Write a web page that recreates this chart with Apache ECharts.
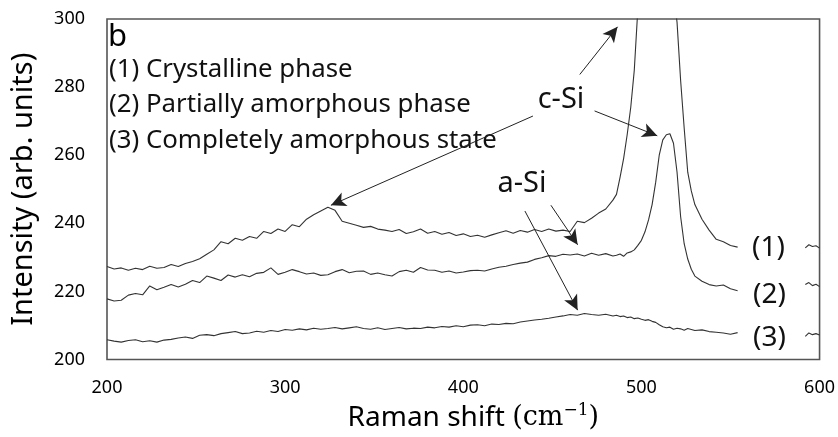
<!DOCTYPE html>
<html>
<head>
<meta charset="utf-8">
<script src="https://cdn.jsdelivr.net/npm/echarts@6/dist/echarts.min.js"></script>
<style>
html,body{margin:0;padding:0;background:#fff;}
#chart{width:838px;height:437px;}
</style>
</head>
<body>
<div id="chart"></div>
<script>
// Raman shift sample positions (cm^-1); 570 marks the gap hidden behind the (1)(2)(3) labels
const ramanShift = [
  200,204,208,212,216,220,224,228,232,236,
  240,244,248,252,256,260,264,268,272,276,
  280,284,288,292,296,300,304,308,312,316,
  320,324,328,332,336,340,344,348,352,356,
  360,364,368,372,376,380,384,388,392,396,
  400,404,408,412,416,420,424,428,432,436,
  440,444,448,452,456,460,464,468,472,476,
  480,484,
  486,488,490,492,494,496,498,500,502,504,506,508,510,512,514,516,518,520,522,524,526,528,530,
  534,538,542,546,550,554,
  570,
  592,594,596,598,600
];

// (1) Crystalline phase
const crystalline = [
  227.3,226.6,226.9,226.2,226.8,226.4,227.4,226.8,227.0,227.9,
  227.3,228.2,228.8,229.6,230.9,232.2,234.6,234.0,235.6,235.0,
  236.1,235.6,237.6,237.0,238.3,237.6,239.6,239.0,241.2,242.5,
  243.6,244.7,243.8,240.6,240.0,239.4,238.8,239.1,238.3,238.0,
  237.6,238.2,237.0,237.5,238.3,237.1,237.6,236.8,237.3,236.4,
  236.9,236.1,236.5,235.9,236.6,237.2,237.8,237.1,237.9,237.4,
  238.2,237.6,238.3,237.7,238.0,237.6,240.6,240.2,241.5,243.0,
  244.2,246.8,
  248.5,253.5,259,266,274,285,303,318,332,342,348,350,348,342,330,316,308,299,282,268,255,249.5,245.5,
  241.2,238.0,235.3,234.6,233.5,233.0,
  null,
  232.8,233.7,233.2,233.4,232.7
];

// (2) Partially amorphous phase
const partial = [
  217.8,217.2,217.4,218.9,219.4,219.0,221.6,220.5,221.2,222.0,
  221.3,222.1,223.2,222.6,224.5,223.9,223.2,224.8,224.2,224.9,
  224.3,225.3,225.6,226.9,225.0,225.6,226.4,225.8,225.1,225.4,
  224.7,224.9,225.8,226.4,225.5,225.9,226.0,225.0,225.4,224.9,
  224.5,225.8,226.2,225.6,227.0,226.3,226.2,225.6,226.0,225.4,
  225.7,226.1,226.2,226.0,226.6,227.1,227.4,227.9,228.3,228.6,
  229.4,229.9,230.5,230.3,230.9,230.7,231.0,230.4,231.2,230.6,
  231.1,230.4,
  230.6,231.0,230.3,231.3,231.6,232.2,233.5,235.0,237.5,241,245.5,252,260,264.5,266.0,266.3,263.5,255,242,234,229.5,226.5,224.5,
  223.0,222.0,221.6,221.9,220.8,220.2,
  null,
  222.0,222.6,221.7,222.1,221.4
];

// (3) Completely amorphous state
const amorphous = [
  205.8,205.4,205.1,205.6,205.8,205.2,205.5,205.1,205.7,205.9,
  206.3,206.6,206.2,207.1,207.3,207.0,207.6,207.9,208.2,207.6,
  207.8,208.3,208.0,208.5,208.2,208.8,208.6,209.0,208.7,209.2,
  208.9,209.1,209.4,209.0,209.3,209.6,209.1,208.9,209.3,208.8,
  209.1,209.4,209.0,209.2,209.1,209.5,209.3,209.7,209.5,209.9,
  209.6,210.1,210.2,209.9,210.4,210.3,210.6,210.5,211.0,211.3,
  211.6,211.8,212.1,212.5,212.8,213.2,213.0,213.5,213.2,213.0,
  213.3,212.8,
  213.0,212.6,212.8,212.3,212.5,212.0,212.2,211.8,211.5,211.7,211.2,210.9,210.2,209.6,209.3,209.5,208.9,209.2,209.0,208.6,209.1,208.8,208.5,
  208.7,208.2,208.0,207.8,207.4,207.9,
  null,
  206.8,207.8,207.3,207.6,207.2
];

// Annotation arrows in data coordinates: [fromX, fromY, toX, toY]
const arrows = [
  [465.4, 283.7, 486.6, 297.7],   // c-Si -> (1) peak
  [439.1, 271.5, 325.7, 245.3],   // c-Si -> 325 feature
  [473.7, 273.0, 508.9, 265.7],   // c-Si -> (2) peak
  [449.2, 245.3, 464.2, 233.7],   // a-Si -> (2)
  [434.6, 243.6, 464.2, 214.5]    // a-Si -> (3)
];

const xTicks = [200, 300, 400, 500, 600];
const yTicks = [200, 220, 240, 260, 280, 300];

const pairs = (ys) => ramanShift.map((x, i) => [x, ys[i]]);
const FONT = '"Noto Sans", sans-serif';
const lineColor = '#333333';

const chart = echarts.init(document.getElementById('chart'), null, {renderer: 'canvas'});

const lineSeries = (name, ys, extra) => Object.assign({
  name: name,
  type: 'line',
  data: pairs(ys),
  showSymbol: false,
  symbol: 'none',
  connectNulls: false,
  clip: true,
  lineStyle: {color: lineColor, width: 1.1},
  animation: false,
  z: 2
}, extra || {});

const option = {
  animation: false,
  backgroundColor: '#ffffff',
  textStyle: {fontFamily: FONT},
  grid: {
    left: 107, top: 19, right: 15, bottom: 74,
    show: true, borderColor: '#555555', borderWidth: 1.6, backgroundColor: 'transparent'
  },
  xAxis: {
    type: 'value',
    min: xTicks[0], max: xTicks[xTicks.length - 1], interval: 100,
    axisLine: {show: false},
    axisTick: {show: false},
    splitLine: {show: false},
    axisLabel: {color: '#000', fontSize: 18, fontFamily: FONT, margin: 19, showMinLabel: true, showMaxLabel: true},
    name: '{a|Raman shift }{b|(cm}{c|−1}{b|)}',
    nameLocation: 'middle',
    nameGap: 43,
    nameTextStyle: {
      padding: [0, 0, 0, 20],
      rich: {
        a: {fontFamily: FONT, fontSize: 28, color: '#000'},
        b: {fontFamily: '"DejaVu Serif", "Liberation Serif", serif', fontSize: 27, color: '#000'},
        c: {fontFamily: '"DejaVu Serif", "Liberation Serif", serif', fontSize: 17, color: '#000', verticalAlign: 'top', padding: [0, 0, 14, 0]}
      }
    }
  },
  yAxis: {
    type: 'value',
    min: yTicks[0], max: yTicks[yTicks.length - 1], interval: 20,
    axisLine: {show: false},
    axisTick: {show: false},
    splitLine: {show: false},
    axisLabel: {color: '#000', fontSize: 18, fontFamily: FONT, margin: 22},
    name: 'Intensity (arb. units)',
    nameLocation: 'middle',
    nameRotate: 90,
    nameGap: 69,
    nameTextStyle: {fontFamily: FONT, fontSize: 29, color: '#000'}
  },
  series: [
    lineSeries('(1) Crystalline phase', crystalline, {
      markLine: {
        silent: true,
        animation: false,
        symbol: ['none', 'arrow'],
        symbolSize: [11, 15],
        label: {show: false},
        lineStyle: {color: '#222', width: 1, type: 'solid'},
        data: arrows.map(a => [{coord: [a[0], a[1]]}, {coord: [a[2], a[3]]}])
      }
    }),
    lineSeries('(2) Partially amorphous phase', partial),
    lineSeries('(3) Completely amorphous state', amorphous)
  ],
  graphic: [
    {type: 'text', left: 108, top: 22, style: {text: 'b', fontFamily: FONT, fontSize: 31, fill: '#000'}},
    {type: 'text', x: 109, y: 70, style: {text: '(1) Crystalline phase', fontFamily: FONT, fontSize: 25.8, fill: '#111', textVerticalAlign: 'middle'}},
    {type: 'text', x: 109, y: 105, style: {text: '(2) Partially amorphous phase', fontFamily: FONT, fontSize: 25.8, fill: '#111', textVerticalAlign: 'middle'}},
    {type: 'text', x: 109, y: 141, style: {text: '(3) Completely amorphous state', fontFamily: FONT, fontSize: 25.8, fill: '#111', textVerticalAlign: 'middle'}},
    {type: 'text', x: 561, y: 100, style: {text: 'c-Si', fontFamily: FONT, fontSize: 29, fill: '#111', textAlign: 'center', textVerticalAlign: 'middle'}},
    {type: 'text', x: 522, y: 184, style: {text: 'a-Si', fontFamily: FONT, fontSize: 29, fill: '#111', textAlign: 'center', textVerticalAlign: 'middle'}},
    {type: 'text', x: 752, y: 248, style: {text: '(1)', fontFamily: FONT, fontSize: 28, fill: '#111', textVerticalAlign: 'middle'}},
    {type: 'text', x: 753, y: 295, style: {text: '(2)', fontFamily: FONT, fontSize: 28, fill: '#111', textVerticalAlign: 'middle'}},
    {type: 'text', x: 753, y: 338, style: {text: '(3)', fontFamily: FONT, fontSize: 28, fill: '#111', textVerticalAlign: 'middle'}}
  ]
};

chart.setOption(option);
</script>
</body>
</html>
